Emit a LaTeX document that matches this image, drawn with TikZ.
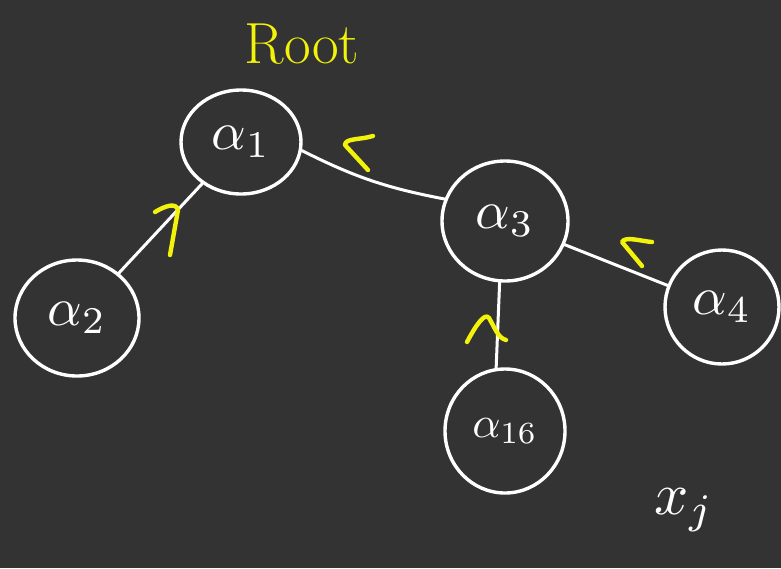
\documentclass[tikz,border=0pt]{standalone}
\usepackage{graphicx}
\usetikzlibrary{shapes.geometric}
\definecolor{board}{HTML}{333333}
\definecolor{marker}{HTML}{F2F20A}
\newcommand{\vlabel}[1]{\scalebox{5.4}{$#1$}}
\begin{document}
\begin{tikzpicture}[x=1pt,y=-1pt,
  vert/.style={ellipse, draw=white, line width=3.4pt, text=white, inner sep=0pt},
  link/.style={draw=white, line width=3pt, line cap=round},
  chev/.style={draw=marker, line width=4.4pt, line cap=round, line join=round}]
  % board
  \fill[board] (0,0) rectangle (781,568);
  \useasboundingbox (0,0) rectangle (781,568);

  % vertices
  \node[vert, minimum width=120pt, minimum height=104pt] (a1) at (241,142) {\vlabel{\alpha_1}};
  \node[vert, minimum width=124pt, minimum height=116pt] (a2) at (77,318) {\vlabel{\alpha_2}};
  \node[vert, minimum width=126pt, minimum height=120pt] (a3) at (505,221) {\vlabel{\alpha_3}};
  \node[vert, minimum width=114pt, minimum height=114pt] (a4) at (722,307) {\vlabel{\alpha_4}};
  \node[vert, minimum width=120pt, minimum height=124pt] (a16) at (505,431) {\scalebox{4.4}{$\alpha_{16}$}};

  % labels
  \node[text=marker, font=\fontsize{58}{58}\selectfont] (root) at (302,44) {Root};
  \node[text=white] (xj) at (684,510) {\scalebox{6}{$x_j$}};

  % parent links
  \draw[link] (a2) -- (a1);
  \draw[link] (a3.160) to[bend left=8] (a1.-8);
  \draw[link] (a4) -- (a3);
  \draw[link] (a16.98) -- (a3.265);

  % direction marks
  \draw[chev] (155,212) .. controls (165,206) and (176,202) .. (178,210) -- (170,255);
  \draw[chev] (373,136) .. controls (360,140) and (345,138) .. (345,145) -- (368,170);
  \draw[chev] (652,242) .. controls (640,241) and (625,236) .. (622,242) -- (642,266);
  \draw[chev] (467,342) .. controls (476,325) and (485,312) .. (489,318) .. controls (495,328) and (498,338) .. (506,340);
\end{tikzpicture}
\end{document}
